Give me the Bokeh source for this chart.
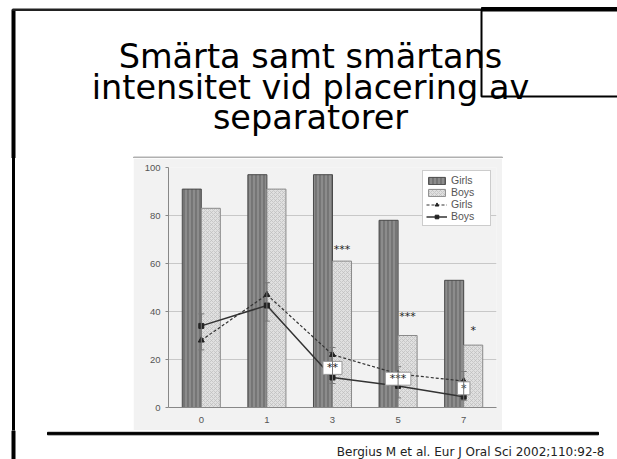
from bokeh.plotting import figure
from bokeh.layouts import column, row
from bokeh.models import (FactorRange, FixedTicker, Legend, LegendItem, Range1d, Spacer, Div,
                          ColumnDataSource, Whisker, TeeHead)
from bokeh.transform import dodge
from bokeh.core.properties import value
from bokeh.embed import file_html
from bokeh.resources import INLINE

# ---------------- data ----------------
days = ["0", "1", "3", "5", "7"]
series = ["Girls", "Boys"]
girls_pct = [91, 97, 97, 78, 53]          # % with pain (bars)
boys_pct = [83, 91, 61, 30, 26]
girls_int = [28, 47, 22, 14, 11]          # pain intensity (lines)
boys_int = [34, 42.5, 12.5, 9, 4.5]
err_low = [24, 36, 10, 4, 3]
err_high = [39, 52, 25, 17, 15]
sig_days = ["3", "5", "7"]
sig_pct = ["***", "***", "*"]
sig_pct_y = [66, 38, 32]
sig_int = ["**", "***", "*"]
sig_int_y = [16.5, 12, 8]
y_ticks = [0, 20, 40, 60, 80, 100]
title_lines = ["Smärta samt smärtans", "intensitet vid placering av", "separatorer"]
citation = "Bergius M et al. Eur J Oral Sci 2002;110:92-8"

SCAN_BG = "#f2f2f2"


def deco_fig(w, h):
    f = figure(width=w, height=h, x_range=Range1d(0, w), y_range=Range1d(h, 0), title=None,
               output_backend="svg", toolbar_location=None, x_axis_type=None, y_axis_type=None,
               min_border=0)
    f.outline_line_color = None
    f.background_fill_color = "white"
    f.border_fill_color = "white"
    return f


# ---------------- title area ----------------
top = deco_fig(617, 158)
top.quad(left=11.5, right=14.5, top=9, bottom=158, color="black")            # slide left border
top.quad(left=12, right=617, top=8.5, bottom=10, color="#222222")           # slide top border
top.quad(left=481, right=617, top=7, bottom=10.5, color="black")            # corner box top
top.line(x=[617, 481, 481, 617], y=[9, 9, 96, 96], line_color="black", line_width=2)
top.quad(left=133, right=502, top=156.5, bottom=158, color="#b0b0b0")       # scan top edge
top.text(x=[310, 310, 310], y=[56, 87, 117], text=title_lines, text_align="center",
         text_baseline="alphabetic", text_font=value("DejaVu Sans"), text_font_size="33.5px",
         text_color="black")

# ---------------- left strip (slide border) ----------------
left = Div(text='<div style="margin:0 0 0 11.5px;padding:0;width:3px;height:272px;background:#000000;"></div>',
           width=133, height=272, margin=0)

# ---------------- chart ----------------
src = ColumnDataSource(dict(day=days, girls=girls_pct, boys=boys_pct,
                            gi=girls_int, bi=boys_int, lo=err_low, hi=err_high))
sig_src = ColumnDataSource(dict(day=sig_days, t=sig_pct, y=sig_pct_y))
box_src = ColumnDataSource(dict(day=sig_days, t=sig_int, y=sig_int_y,
                                w=[6 + 6.5 * len(s) for s in sig_int]))

p = figure(width=369, height=272, x_range=FactorRange(factors=days), y_range=Range1d(0, 100),
           output_backend="svg", toolbar_location=None,
           min_border_left=35, min_border_right=6, min_border_top=9, min_border_bottom=23)
p.background_fill_color = SCAN_BG
p.border_fill_color = SCAN_BG
p.outline_line_color = None

gbar = p.vbar(x=dodge("day", -0.145, range=p.x_range), top="girls", width=0.29, source=src,
              fill_color="#8c8c8c", line_color="#4a4a4a", line_width=1,
              hatch_pattern="vertical_line", hatch_color="#666666", hatch_scale=4, hatch_weight=1.2)
bbar = p.vbar(x=dodge("day", 0.145, range=p.x_range), top="boys", width=0.29, source=src,
              fill_color="#e0e0e0", line_color="#8a8a8a", line_width=1,
              hatch_pattern="diagonal_cross", hatch_color="#bdbdbd", hatch_scale=4, hatch_weight=0.7)

p.add_layout(Whisker(source=src, base="day", lower="lo", upper="hi", line_color="#777777", line_width=1,
                     upper_head=TeeHead(size=6, line_color="#777777"),
                     lower_head=TeeHead(size=6, line_color="#777777"), level="glyph"))

gline = p.line(x="day", y="gi", source=src, line_color="#333333", line_width=1.2, line_dash="3 2")
gpts = p.scatter(x="day", y="gi", source=src, marker="triangle", size=6, color="#222222")
bline = p.line(x="day", y="bi", source=src, line_color="#333333", line_width=1.5)
bpts = p.scatter(x="day", y="bi", source=src, marker="square", size=5, color="#222222")

p.text(x=dodge("day", 0.145, range=p.x_range), y="y", text="t", source=sig_src,
       text_align="center", text_baseline="middle", text_font=value("DejaVu Sans"),
       text_font_size="11px", text_color="#222222")
p.rect(x="day", y="y", width="w", height=13, width_units="screen", height_units="screen",
       source=box_src, fill_color="white", line_color="#999999", line_width=1)
p.text(x="day", y="y", text="t", source=box_src, text_align="center", text_baseline="middle",
       text_font=value("DejaVu Sans"), text_font_size="11px", text_color="#222222")

p.yaxis.ticker = FixedTicker(ticks=y_ticks)
for ax in (p.xaxis[0], p.yaxis[0]):
    ax.axis_line_color = "#888888"
    ax.major_label_text_font = "Liberation Sans"
    ax.major_label_text_font_size = "9.5px"
    ax.major_label_text_color = "#555555"
    ax.minor_tick_line_color = None
p.yaxis.major_tick_line_color = "#888888"
p.yaxis.major_tick_out = 3
p.yaxis.major_tick_in = 0
p.yaxis.major_label_standoff = 5
p.xaxis.major_tick_line_color = None
p.xaxis.major_tick_out = 0
p.xaxis.major_tick_in = 0
p.xaxis.major_label_standoff = 9
p.ygrid.grid_line_color = "#c8c8c8"
p.xgrid.grid_line_color = None

legend = Legend(items=[LegendItem(label=series[0], renderers=[gbar]),
                       LegendItem(label=series[1], renderers=[bbar]),
                       LegendItem(label=series[0], renderers=[gline, gpts]),
                       LegendItem(label=series[1], renderers=[bline, bpts])],
                location=(254, 181), glyph_width=21, glyph_height=9, label_height=9,
                label_width=36, spacing=0, padding=3, margin=0, label_standoff=4,
                label_text_font="Liberation Sans", label_text_font_size="10.5px",
                label_text_color="#555555", border_line_color="#999999",
                background_fill_color="white", background_fill_alpha=1)
p.add_layout(legend, "center")

# ---------------- footer ----------------
foot = deco_fig(617, 29)
foot.quad(left=11.5, right=14.5, top=0, bottom=29, color="black")
foot.quad(left=47, right=598, top=1.8, bottom=4.3, color="black")
foot.text(x=[604], y=[21], text=[citation], text_align="right", text_baseline="alphabetic",
          text_font=value("DejaVu Sans"), text_font_size="12px", text_color="#222222")

layout = column(top, row(left, p, Spacer(width=115, height=272, margin=0)), foot)

open("out.html", "w").write(file_html(layout, INLINE))
